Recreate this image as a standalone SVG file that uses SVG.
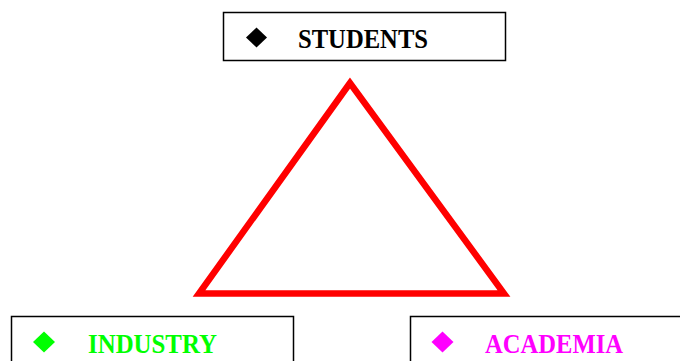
<svg xmlns="http://www.w3.org/2000/svg" width="680" height="361" viewBox="0 0 680 361">
<style>
.box{fill:#fff;stroke:#000;stroke-width:1.5}
.lbl{font-family:"Liberation Serif","Times New Roman",serif;font-weight:bold;font-size:27px}
</style>
<rect width="680" height="361" fill="#fff"/>
<g id="connectors">
<polygon points="350,83 199,293.5 504,293.5" fill="none" stroke="#ff0000" stroke-width="6.5" stroke-linejoin="miter"/>
</g>
<g id="students">
<rect class="box" x="223.5" y="12.5" width="282" height="48"/>
<polygon points="256.5,27.5 267,37.5 256.5,47.5 246,37.5" fill="#000"/>
<text class="lbl" x="298" y="48" fill="#000" textLength="130" lengthAdjust="spacingAndGlyphs">STUDENTS</text>
</g>
<g id="industry">
<rect class="box" x="11.5" y="316.5" width="282" height="60"/>
<polygon points="44,331.5 55,342 44,352.5 33,342" fill="#00ff00"/>
<text class="lbl" x="88" y="352.5" fill="#00ff00" textLength="129" lengthAdjust="spacingAndGlyphs">INDUSTRY</text>
</g>
<g id="academia">
<rect class="box" x="410.5" y="316.5" width="290" height="60"/>
<polygon points="442.5,331.5 453.5,342 442.5,352.5 431.5,342" fill="#ff00ff"/>
<text class="lbl" x="485" y="352.5" fill="#ff00ff" textLength="138" lengthAdjust="spacingAndGlyphs">ACADEMIA</text>
</g>
</svg>
